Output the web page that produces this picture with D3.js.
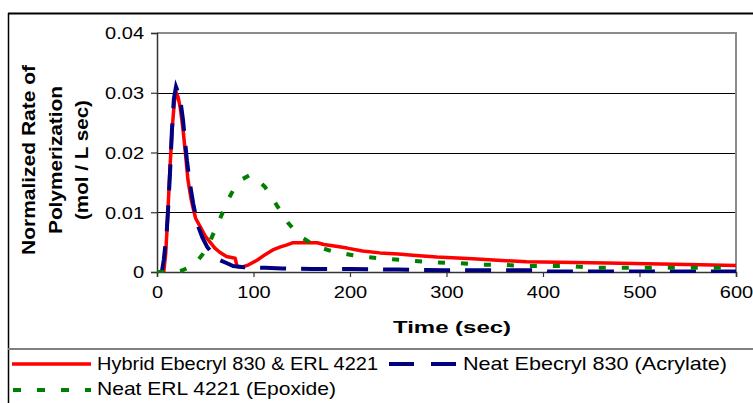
<!DOCTYPE html>
<html><head><meta charset="utf-8">
<script src="https://cdn.jsdelivr.net/npm/d3@7"></script>
<style>html,body{margin:0;padding:0;background:#fff;}svg{display:block;font-family:"Liberation Sans",Arial,sans-serif;}</style>
</head><body>
<svg id="c" width="753" height="403"></svg>
<script>
const hybridT = [7,9,11,13,15.5,18,20,22,24,27,30,32,35,37,40,45,50,55,60,65,72,81,83,88,95,104,112,120,128,134,141,166,173,182,197,213,231,250,265,290,327,383,466,563,600];
const hybridV = [0,0.003,0.009,0.016,0.0235,0.0285,0.030,0.0292,0.0276,0.0238,0.019,0.0155,0.0125,0.011,0.009,0.0075,0.006,0.005,0.004,0.0033,0.0026,0.0023,0.0009,0.0008,0.0012,0.002,0.0029,0.0037,0.0042,0.0045,0.0049,0.0049,0.0046,0.0044,0.004,0.0035,0.0032,0.003,0.0028,0.0025,0.0022,0.0017,0.0015,0.0012,0.0011];
const acrylateT = [5,7,10,12,13.5,15.5,17.5,19.7,22,24,27,29,31,34,37.5,40,43,47,52,58,65,72,79,90,112,130,160,200,250,300,350,400,405,450,500,600];
const acrylateV = [0,0.002,0.0065,0.012,0.0166,0.0238,0.029,0.031,0.030,0.029,0.0254,0.022,0.0187,0.0149,0.0115,0.0095,0.0075,0.0058,0.0042,0.003,0.002,0.0015,0.001,0.0008,0.0007,0.0006,0.0005,0.0005,0.0004,0.0003,0.0003,0.0003,0.0001,0.0001,0.0001,0.0001];
const epoxideT = [0,15,25,32,40,48,54,60,65,70,75,80,88,96,104,112,118,124,130,136,143,151,160,171,185,200,217,239,264,288,312,336,360,381,405,429,452,600];
const epoxideV = [0,0,0.0002,0.0007,0.0015,0.0031,0.0048,0.007,0.0088,0.0107,0.0125,0.014,0.0155,0.0162,0.0155,0.0142,0.0128,0.0112,0.0097,0.0082,0.0069,0.0057,0.0048,0.004,0.0033,0.0029,0.0025,0.0022,0.0019,0.0016,0.0015,0.0012,0.0012,0.001,0.001,0.001,0.0007,0.0007];
const xTicks = [0,100,200,300,400,500,600];
const yTicks = [0,0.01,0.02,0.03,0.04];
const yTickLabels = ["0","0.01","0.02","0.03","0.04"];
const seriesNames = ["Hybrid Ebecryl 830 & ERL 4221","Neat Ebecryl 830 (Acrylate)","Neat ERL 4221 (Epoxide)"];
const yTitle = ["Normalized Rate of","Polymerization","(mol / L sec)"];
const xTitle = "Time (sec)";

const svg = d3.select("#c");
const L=157, R=736, T=33, B=272;
const x = d3.scaleLinear().domain([0,600]).range([L,R]);
const y = d3.scaleLinear().domain([0,0.04]).range([B,T]);
const STRETCH = 1.25;

// outer frame
svg.append("line").attr("x1",8).attr("x2",753).attr("y1",13.5).attr("y2",13.5).attr("stroke","#000").attr("stroke-width",2);
svg.append("line").attr("x1",8.5).attr("x2",8.5).attr("y1",13).attr("y2",403).attr("stroke","#000").attr("stroke-width",1.5);
svg.append("line").attr("x1",8).attr("x2",753).attr("y1",349).attr("y2",349).attr("stroke","#808080").attr("stroke-width",2);

// gridlines
svg.append("g").selectAll("line").data(yTicks.filter(d=>d>0&&d<0.04)).join("line")
  .attr("x1",L).attr("x2",R).attr("y1",d=>Math.round(y(d))+0.5).attr("y2",d=>Math.round(y(d))+0.5)
  .attr("stroke","#000").attr("stroke-width",1);
// plot border top/right
svg.append("line").attr("x1",L).attr("x2",R+1).attr("y1",T).attr("y2",T).attr("stroke","#8c8c8c").attr("stroke-width",2);
svg.append("line").attr("x1",R).attr("x2",R).attr("y1",T).attr("y2",B).attr("stroke","#8c8c8c").attr("stroke-width",2);

// axes
const yAxis = svg.append("g").attr("transform",`translate(${L},0)`)
  .call(d3.axisLeft(y).tickValues(yTicks).tickFormat((d,i)=>yTickLabels[i]).tickSize(6).tickPadding(7));
const xAxis = svg.append("g").attr("transform",`translate(0,${B})`)
  .call(d3.axisBottom(x).tickValues(xTicks).tickSize(5).tickPadding(10));
[yAxis,xAxis].forEach(g=>{
  g.select(".domain").attr("stroke","#333").attr("stroke-width",1.5);
  g.selectAll(".tick line").attr("stroke","#333").attr("stroke-width",1.2);
  g.selectAll("text").attr("font-size",16).attr("font-family","Liberation Sans, Arial, sans-serif").attr("fill","#000");
});
yAxis.selectAll(".tick text").attr("dy","0.36em");

// series
const line = d3.line().x(d=>x(d[0])).y(d=>y(d[1]));
const hybrid = hybridT.map((t,i)=>[t,hybridV[i]]);
const acrylate = acrylateT.map((t,i)=>[t,acrylateV[i]]);
const epoxide = epoxideT.map((t,i)=>[t,epoxideV[i]]);
svg.append("clipPath").attr("id","pc").append("rect").attr("x",L).attr("y",T).attr("width",R-L+2).attr("height",B-T+1);
const pg = svg.append("g").attr("clip-path","url(#pc)");
pg.append("path").datum(hybrid).attr("d",line).attr("fill","none").attr("stroke","#ff0000").attr("stroke-width",3.5).attr("stroke-linejoin","round");
pg.append("path").datum(acrylate).attr("d",line).attr("fill","none").attr("stroke","#000080").attr("stroke-width",4).attr("stroke-dasharray","26,15");
pg.append("path").datum(epoxide).attr("d",line).attr("fill","none").attr("stroke","#008000").attr("stroke-width",4).attr("stroke-dasharray","7,16");

// titles
svg.append("text").attr("x",452).attr("y",333).attr("text-anchor","middle").attr("font-weight","bold").attr("font-size",17)
  .attr("textLength",118).attr("lengthAdjust","spacingAndGlyphs").text(xTitle);
const yLens=[190,148,120];
const yBases=[35,62,88];
yTitle.forEach((s,i)=>{
  svg.append("text").attr("transform",`translate(${yBases[i]},160) rotate(-90)`).attr("text-anchor","middle")
    .attr("font-weight","bold").attr("font-size",17.5).attr("textLength",yLens[i]).attr("lengthAdjust","spacingAndGlyphs").text(s);
});

// legend
const lg = svg.append("g");
lg.append("line").attr("x1",12).attr("x2",91).attr("y1",364).attr("y2",364).attr("stroke","#ff0000").attr("stroke-width",3.5);
lg.append("line").attr("x1",389).attr("x2",457).attr("y1",364).attr("y2",364).attr("stroke","#000080").attr("stroke-width",4).attr("stroke-dasharray","25,17");
lg.append("line").attr("x1",13).attr("x2",91).attr("y1",390).attr("y2",390).attr("stroke","#008000").attr("stroke-width",4).attr("stroke-dasharray","8,16");
const legPos=[[97,370,281],[463,370,264],[97,395,239]];
seriesNames.forEach((s,i)=>{
  lg.append("text").attr("x",legPos[i][0]).attr("y",legPos[i][1]).attr("font-size",18.5)
    .attr("textLength",legPos[i][2]).attr("lengthAdjust","spacingAndGlyphs").text(s);
});

// horizontal stretch for tick labels
svg.selectAll(".tick text").each(function(){
  const w=this.getComputedTextLength();
  d3.select(this).attr("textLength",w*STRETCH).attr("lengthAdjust","spacingAndGlyphs");
});
</script>
</body></html>
